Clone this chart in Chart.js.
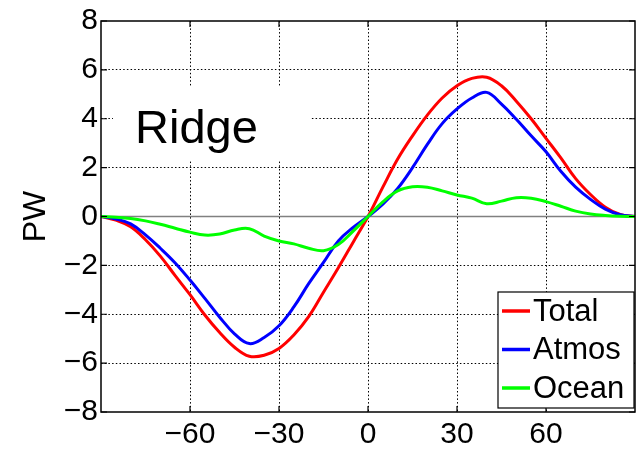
<!DOCTYPE html>
<html>
<head>
<meta charset="utf-8">
<script src="https://cdn.jsdelivr.net/npm/chart.js@4.4.1/dist/chart.umd.min.js"></script>
<style>
  html, body { margin: 0; padding: 0; background: #fff; overflow: hidden; }
  #wrap { width: 640px; height: 451px; }
</style>
</head>
<body>
<div id="wrap"><canvas id="myChart"></canvas></div>
<script>
// Latitudes (degrees)
const lats = [-90, -85, -80, -75, -70, -65, -60, -55, -50, -45, -40, -35, -30, -25, -20, -15, -10, -5, 0,
              5, 10, 15, 20, 25, 30, 35, 40, 45, 50, 55, 60, 65, 70, 75, 80, 85, 90];

// Heat transport (PW)
const totalPW = [0, -0.15, -0.42, -0.95, -1.62, -2.42, -3.2, -4.03, -4.75, -5.35, -5.72, -5.68, -5.4, -4.85, -4.1, -3.1, -2.1, -1.05, 0,
                 1.2, 2.35, 3.3, 4.15, 4.85, 5.35, 5.65, 5.7, 5.35, 4.72, 4.0, 3.2, 2.4, 1.55, 0.9, 0.38, 0.08, 0];
const atmosPW = [0, -0.1, -0.3, -0.75, -1.3, -1.9, -2.6, -3.35, -4.12, -4.8, -5.2, -4.95, -4.47, -3.7, -2.75, -1.88, -1.0, -0.45, 0,
                 0.5, 1.15, 2.0, 2.95, 3.8, 4.4, 4.85, 5.08, 4.6, 3.98, 3.3, 2.65, 1.85, 1.2, 0.7, 0.3, 0.07, 0];
const oceanPW = [0, -0.03, -0.08, -0.18, -0.32, -0.48, -0.64, -0.76, -0.72, -0.55, -0.5, -0.8, -1.0, -1.12, -1.3, -1.4, -1.15, -0.6, 0,
                 0.6, 1.05, 1.22, 1.2, 1.05, 0.88, 0.75, 0.52, 0.63, 0.77, 0.75, 0.61, 0.42, 0.22, 0.1, 0.04, 0.01, 0];

const seriesNames = ['Total', 'Atmos', 'Ocean'];
const seriesColors = ['#ff0000', '#0000ff', '#00ff00'];
const xTicks = [-60, -30, 0, 30, 60];
const yTicks = [-8, -6, -4, -2, 0, 2, 4, 6, 8];
const panelLabel = 'Ridge';
const yTitle = 'PW';

const FONT = 'Liberation Sans, Arial, sans-serif';

function toPoints(vals) {
    return lats.map((x, i) => ({x: x, y: vals[i]}));
}

// Rahmen, innere Ticks, Nulllinie, Beschriftung und Legende
const decorPlugin = {
    id: 'decor',
    beforeDatasetsDraw(chart) {
        const {ctx, chartArea: a, scales: {y}} = chart;
        ctx.save();
        // zero line
        ctx.strokeStyle = '#808080';
        ctx.lineWidth = 1.5;
        ctx.beginPath();
        ctx.moveTo(a.left, y.getPixelForValue(0));
        ctx.lineTo(a.right, y.getPixelForValue(0));
        ctx.stroke();
        // panel label with white background
        ctx.fillStyle = '#fff';
        ctx.fillRect(113, 86, 197, 74);
        ctx.fillStyle = '#000';
        ctx.font = '47px ' + FONT;
        ctx.textBaseline = 'alphabetic';
        ctx.fillText(panelLabel, 135, 143);
        ctx.restore();
    },
    afterDatasetsDraw(chart) {
        const {ctx, chartArea: a, scales: {x, y}} = chart;
        ctx.save();
        ctx.strokeStyle = '#000';
        ctx.lineWidth = 1.5;
        ctx.strokeRect(a.left, a.top, a.right - a.left, a.bottom - a.top);
        ctx.lineWidth = 1.2;
        ctx.beginPath();
        xTicks.forEach(v => {
            const px = x.getPixelForValue(v);
            ctx.moveTo(px, a.bottom); ctx.lineTo(px, a.bottom - 6);
            ctx.moveTo(px, a.top); ctx.lineTo(px, a.top + 6);
        });
        yTicks.forEach(v => {
            const py = y.getPixelForValue(v);
            ctx.moveTo(a.left, py); ctx.lineTo(a.left + 6, py);
            ctx.moveTo(a.right, py); ctx.lineTo(a.right - 6, py);
        });
        ctx.stroke();
        ctx.restore();
    },
    afterDraw(chart) {
        const {ctx} = chart;
        ctx.save();
        ctx.fillStyle = '#fff';
        ctx.fillRect(498, 292, 136, 116);
        ctx.strokeStyle = '#000';
        ctx.lineWidth = 1.2;
        ctx.strokeRect(498, 292, 136, 116);
        ctx.font = '31px ' + FONT;
        ctx.textBaseline = 'middle';
        seriesNames.forEach((name, i) => {
            const cy = 311 + i * 38.5;
            ctx.strokeStyle = seriesColors[i];
            ctx.lineWidth = 3.5;
            ctx.beginPath();
            ctx.moveTo(502, cy); ctx.lineTo(530, cy);
            ctx.stroke();
            ctx.fillStyle = '#000';
            ctx.fillText(name, 533, cy + 1);
        });
        ctx.restore();
    }
};

const ctx = document.getElementById('myChart').getContext('2d');

const chart = new Chart(ctx, {
    type: 'line',
    data: {
        // Ocean zuerst zeichnen, Total oben
        datasets: [totalPW, atmosPW, oceanPW].map((vals, i) => ({
            label: seriesNames[i],
            data: toPoints(vals),
            borderColor: seriesColors[i],
            borderWidth: 3,
            pointRadius: 0,
            tension: 0.4,
            fill: false
        })).reverse()
    },
    options: {
        responsive: true,
        maintainAspectRatio: false,
        animation: false,
        layout: {padding: {top: 18, right: 1, left: 0, bottom: 0}},
        plugins: {
            legend: {display: false},
            tooltip: {enabled: false}
        },
        scales: {
            x: {
                type: 'linear',
                min: -90,
                max: 90,
                afterFit: s => { s.height = 39; },
                afterBuildTicks: s => { s.ticks = [-90].concat(xTicks, [90]).map(v => ({value: v})); },
                ticks: {
                    color: '#000',
                    padding: 5,
                    font: {family: FONT, size: 30},
                    maxRotation: 0,
                    callback: v => (Math.abs(v) === 90 ? '' : String(v).replace('-', '\u2212'))
                },
                grid: {
                    drawTicks: false,
                    color: c => (Math.abs(c.tick.value) === 90 ? 'rgba(0,0,0,0)' : '#000'),
                    lineWidth: 1
                },
                border: {display: false, dash: [1.5, 2.2]}
            },
            y: {
                min: -8,
                max: 8,
                afterFit: s => { s.width = 101; },
                afterBuildTicks: s => { s.ticks = yTicks.map(v => ({value: v})); },
                ticks: {
                    color: '#000',
                    padding: 3,
                    font: {family: FONT, size: 30},
                    callback: v => String(v).replace('-', '\u2212')
                },
                grid: {
                    drawTicks: false,
                    color: c => (Math.abs(c.tick.value) === 8 || c.tick.value === 0 ? 'rgba(0,0,0,0)' : '#000'),
                    lineWidth: 1
                },
                border: {display: false, dash: [1.5, 2.2]},
                title: {
                    display: true,
                    text: yTitle,
                    color: '#000',
                    font: {family: FONT, size: 32},
                    padding: {top: 17, bottom: 0}
                }
            }
        }
    },
    plugins: [decorPlugin]
});
</script>
</body>
</html>
